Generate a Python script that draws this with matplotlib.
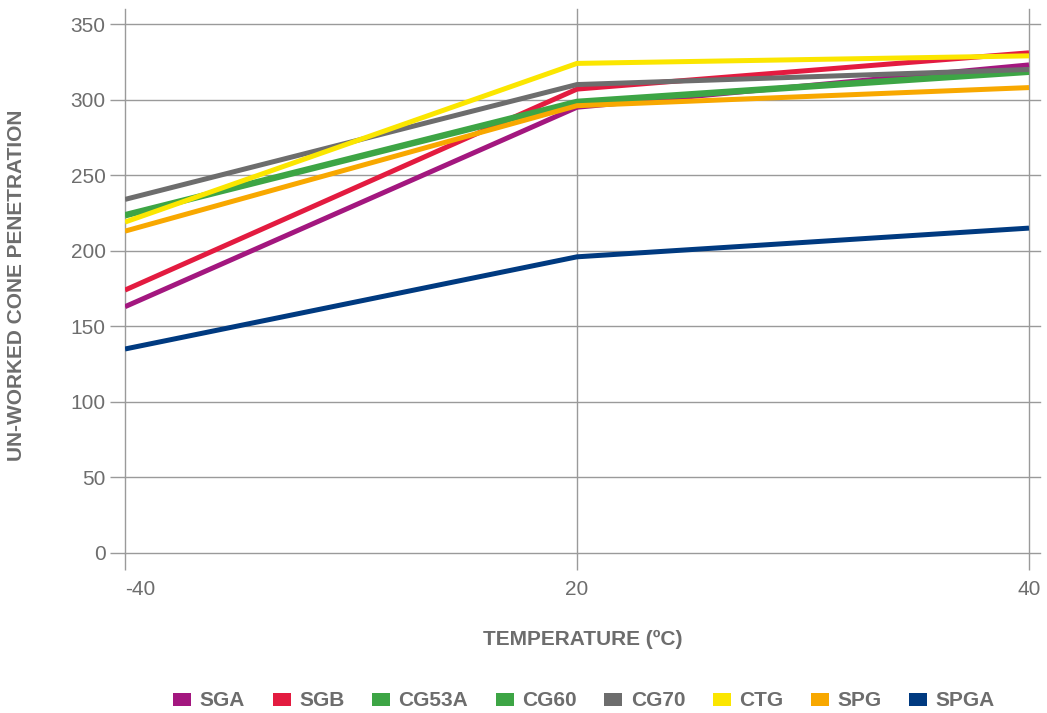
import matplotlib
matplotlib.use("Agg")
from matplotlib import pyplot as plt
from matplotlib.patches import Patch

plt.rcParams['font.family'] = ['Liberation Sans', 'DejaVu Sans']

temps = ["-40", "20", "40"]
names = ["SGA", "SGB", "CG53A", "CG60", "CG70", "CTG", "SPG", "SPGA"]
colors = ["#a3177f", "#e31b40", "#3da545", "#3da545", "#6d6d6d", "#fbe600", "#f8a800", "#003a80"]

sga = [163, 295, 323]
sgb = [174, 307, 331]
cg53a = [223, 298, 318]
cg60 = [224, 299, 319]
cg70 = [234, 310, 320]
ctg = [219, 324, 329]
spg = [213, 296, 308]
spga = [135, 196, 215]
series = [sga, sgb, cg53a, cg60, cg70, ctg, spg, spga]

W, H = 1047, 713
fig = plt.figure(figsize=(W / 100, H / 100), dpi=100)
ax = fig.add_axes([125 / W, (H - 553) / H, (1040 - 125) / W, (553 - 9) / H])

x = list(range(len(temps)))
for vals, c in zip(series, colors):
    ax.plot(x, vals, color=c, linewidth=3.6, solid_capstyle='butt', zorder=3)

grid_c = "#9a9a9a"
txt_c = "#6d6d6d"
ax.set_xlim(0, 2 + 11 / 452)
ax.set_ylim(0, 360)
ax.set_xticks(x)
ax.set_xticklabels(temps)
ax.set_yticks(range(0, 351, 50))
ax.grid(True, color=grid_c, linewidth=1, zorder=1)
for gl in ax.get_xgridlines() + ax.get_ygridlines():
    gl.set_clip_on(False)
for s in ax.spines.values():
    s.set_visible(False)
ax.tick_params(axis='y', direction='out', length=11, width=1, color=grid_c,
               labelsize=15, labelcolor=txt_c, pad=3)
ax.tick_params(axis='x', direction='out', length=12.5, width=1, color=grid_c,
               labelsize=15, labelcolor=txt_c, pad=7)
ax.get_xticklabels()[0].set_horizontalalignment('left')

ax.set_xlabel("TEMPERATURE (ºC)", fontsize=15, color=txt_c, fontweight='bold', labelpad=22)
fig.text(17 / W, 1 - 285 / H, "UN-WORKED CONE PENETRATION", rotation=90, ha='center', va='center',
         fontsize=15, color=txt_c, fontweight='bold')

handles = [Patch(facecolor=c, edgecolor='none', label=n) for n, c in zip(names, colors)]
fig.legend(handles=handles, loc='center', bbox_to_anchor=(584 / W, 12 / H), ncol=8, frameon=False,
           handlelength=0.87, handleheight=0.58, handletextpad=0.4, columnspacing=1.32,
           prop={'size': 15, 'weight': 'bold'}, labelcolor=txt_c)

fig.savefig("out.png", dpi=100)
